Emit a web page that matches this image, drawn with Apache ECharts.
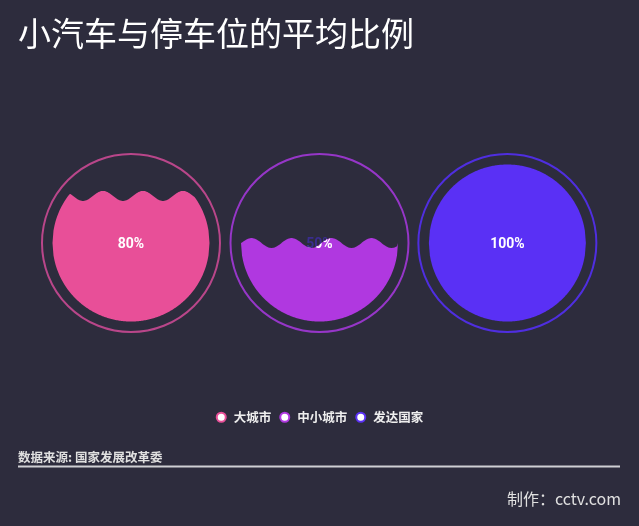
<!DOCTYPE html>
<html>
<head>
<meta charset="utf-8">
<script src="https://cdn.jsdelivr.net/npm/echarts@6/dist/echarts.min.js"></script>
<style>
  html, body { margin: 0; padding: 0; background: #2d2c3d; }
  #main { width: 639px; height: 526px; }
</style>
</head>
<body>
<div id="main"></div>
<script>
// 数据
const categories = ['大城市', '中小城市', '发达国家'];
const ratios = [0.8, 0.5, 1.0];

// 样式
const waveColors = ['#e84f98', '#b038e0', '#5a30f5'];
const ringColors = ['#b9468a', '#9636c8', '#4f2ee0'];
const centersX = [0.205, 0.5, 0.794];
const FONT = '"Noto Sans CJK SC", "Noto Sans", sans-serif';

const chart = echarts.init(document.getElementById('main'));

function liquidItem(idx) {
  return function (params, api) {
    const w = api.getWidth(), h = api.getHeight();
    const cx = w * centersX[idx], cy = h * 0.462;
    const R = 78.5, ringR = 89;
    const ratio = api.value(0);
    const level = cy + R - ratio * 2 * R;
    const amp = ratio >= 1 ? 0 : 5;
    const waveLen = 40, peakX = cx + 12;

    // 波浪与圆的交集
    const top = [], bottom = [];
    for (let x = cx - R; x <= cx + R + 0.01; x += 1) {
      const dx = x - cx;
      const half = Math.sqrt(Math.max(0, R * R - dx * dx));
      const wy = level - amp * Math.cos(2 * Math.PI * (x - peakX) / waveLen);
      const y0 = Math.min(Math.max(wy, cy - half), cy + half);
      top.push([x, y0]);
      bottom.unshift([x, cy + half]);
    }
    const points = top.concat(bottom);
    // 文字的裁剪用局部坐标
    const ly = cy + 1.5;
    const localPoints = points.map(p => [p[0] - cx, p[1] - ly]);
    const label = Math.round(ratio * 100) + '%';
    const labelFont = 'bold 14px Roboto, sans-serif';

    return {
      type: 'group',
      children: [
        {
          type: 'circle',
          shape: { cx: cx, cy: cy, r: ringR },
          style: { fill: 'none', stroke: ringColors[idx], lineWidth: 2 }
        },
        {
          type: 'text',
          x: cx, y: ly,
          style: { text: label, fill: '#3a2d8f', font: labelFont, align: 'center', verticalAlign: 'middle' }
        },
        {
          type: 'polygon',
          shape: { points: points },
          style: { fill: waveColors[idx] }
        },
        {
          type: 'text',
          x: cx, y: ly,
          clipPath: { type: 'polygon', shape: { points: localPoints } },
          style: { text: label, fill: '#ffffff', font: labelFont, align: 'center', verticalAlign: 'middle' }
        }
      ]
    };
  };
}

const option = {
  backgroundColor: '#2d2c3d',
  animation: false,
  title: [
    {
      text: '小汽车与停车位的平均比例',
      left: 13, top: 12,
      textStyle: { color: '#ffffff', fontSize: 33, fontWeight: 'normal', fontFamily: FONT }
    },
    {
      text: '数据来源: 国家发展改革委',
      left: 13, top: 446,
      textStyle: { color: '#e0e0e0', fontSize: 12.5, fontWeight: 'bold', fontFamily: FONT }
    },
    {
      text: '制作：cctv.com',
      right: 13, top: 486,
      textStyle: { color: '#e0e0e0', fontSize: 16, fontWeight: 'normal', fontFamily: FONT }
    }
  ],
  legend: {
    top: 406,
    left: 'center',
    itemWidth: 15,
    itemHeight: 9,
    itemGap: 8,
    textStyle: { color: '#eeeeee', fontSize: 12.5, fontWeight: 'bold', fontFamily: FONT },
    data: categories.map((name, i) => ({
      name: name,
      icon: 'circle',
      itemStyle: { color: '#ffffff', borderColor: waveColors[i], borderWidth: 2 }
    }))
  },
  graphic: [
    {
      type: 'line',
      shape: { x1: 18, y1: 466.5, x2: 620, y2: 466.5 },
      style: { stroke: '#cfcfd4', lineWidth: 2 }
    }
  ],
  series: categories.map((name, i) => ({
    type: 'custom',
    name: name,
    coordinateSystem: 'none',
    itemStyle: { color: waveColors[i] },
    renderItem: liquidItem(i),
    data: [[ratios[i]]]
  }))
};

chart.setOption(option);
</script>
</body>
</html>
